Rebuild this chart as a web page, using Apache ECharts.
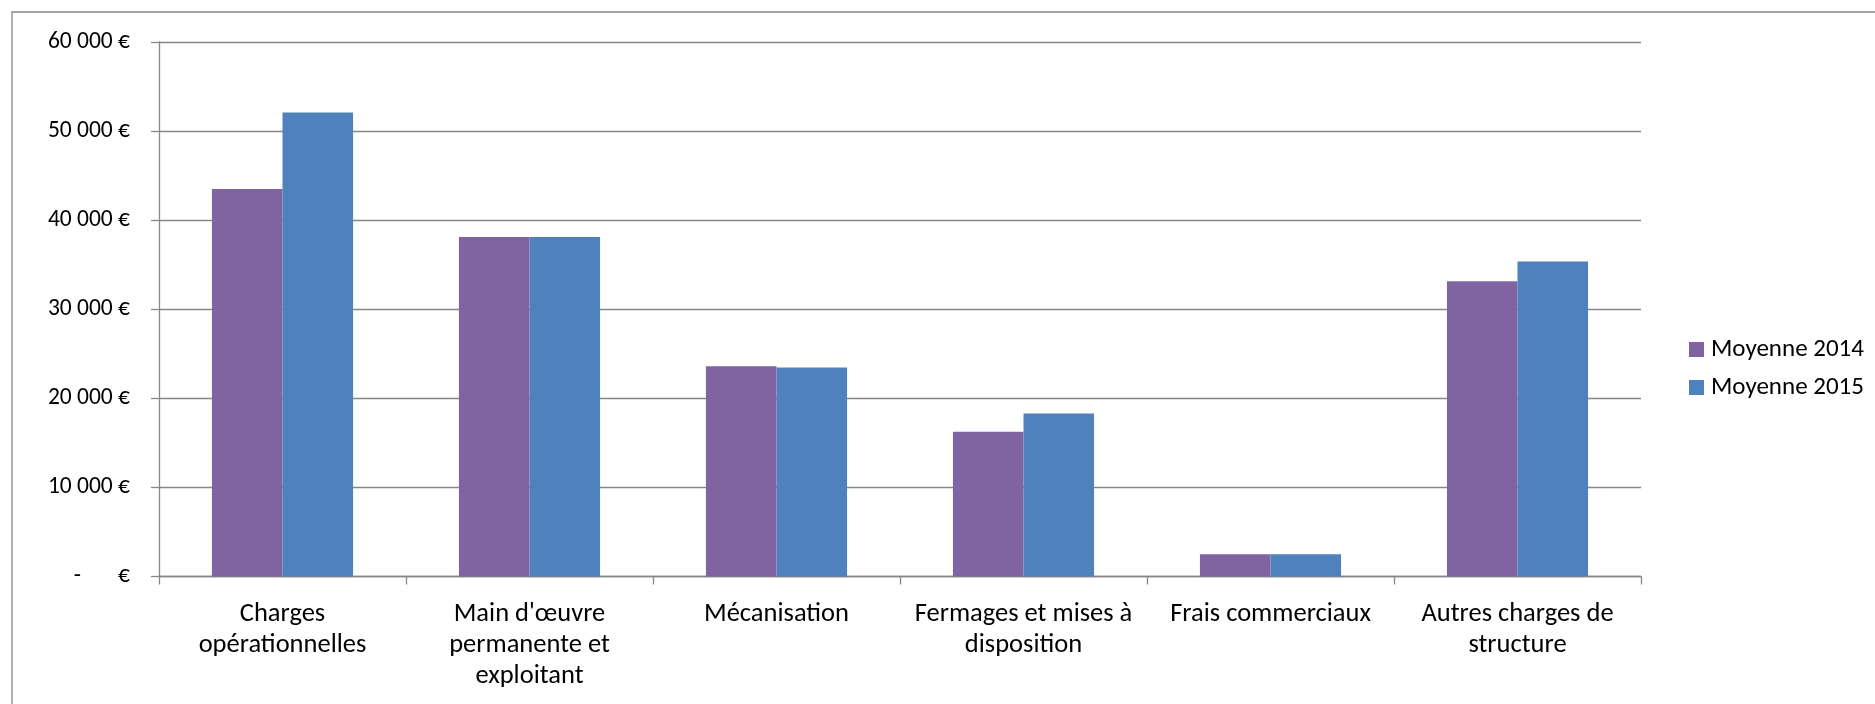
<!DOCTYPE html>
<html>
<head>
<meta charset="utf-8">
<script src="https://cdn.jsdelivr.net/npm/echarts@6/dist/echarts.min.js"></script>
<style>
html,body{margin:0;padding:0;background:#fff;}
#c{width:1875px;height:704px;}
</style>
</head>
<body>
<div id="c"></div>
<script>
var categories = [
  "Charges\nopérationnelles",
  "Main d'œuvre\npermanente et\nexploitant",
  "Mécanisation",
  "Fermages et mises à\ndisposition",
  "Frais commerciaux",
  "Autres charges de\nstructure"
];
var seriesNames = ["Moyenne 2014", "Moyenne 2015"];
var values2014 = [43500, 38100, 23600, 16250, 2500, 33150];
var values2015 = [52100, 38100, 23450, 18300, 2500, 35350];
var yTickLabels = ["-       €", "10 000 €", "20 000 €", "30 000 €", "40 000 €", "50 000 €", "60 000 €"];

var FONT = "Carlito, Lato, sans-serif";
var GRAY = "#878787";

var chart = echarts.init(document.getElementById('c'), null, {renderer: 'canvas'});
chart.setOption({
  backgroundColor: '#ffffff',
  animation: false,
  graphic: [{
    type: 'rect',
    shape: {x: 12, y: 12, width: 2000, height: 1000},
    style: {fill: 'none', stroke: GRAY, lineWidth: 1.3},
    silent: true,
    z: -1
  }],
  grid: {left: 159, right: 234, top: 42, bottom: 127.5, containLabel: false},
  legend: {
    orient: 'vertical',
    left: 1684,
    top: 330,
    itemWidth: 15,
    itemHeight: 15,
    itemGap: 9,
    icon: 'rect',
    textStyle: {fontFamily: FONT, fontSize: 25, color: '#000', lineHeight: 29, padding: [0, 0, 0, 2]},
    data: seriesNames
  },
  xAxis: {
    type: 'category',
    data: categories,
    axisLine: {lineStyle: {color: GRAY, width: 1.3}},
    axisTick: {show: true, length: 8, lineStyle: {color: GRAY, width: 1.3}},
    axisLabel: {
      interval: 0,
      margin: 22,
      fontFamily: FONT,
      fontSize: 26.5,
      lineHeight: 31,
      color: '#000',
      align: 'center'
    }
  },
  yAxis: {
    type: 'value',
    min: 0,
    max: 60000,
    interval: 10000,
    axisLine: {show: true, lineStyle: {color: GRAY, width: 1.3}},
    axisTick: {show: true, length: 8, lineStyle: {color: GRAY, width: 1.3}},
    splitLine: {show: true, lineStyle: {color: GRAY, width: 1.3}},
    axisLabel: {
      margin: 29,
      fontFamily: FONT,
      fontSize: 23.5,
      color: '#000',
      formatter: function (v) { return yTickLabels[Math.round(v / 10000)]; }
    }
  },
  series: [
    {
      name: seriesNames[0],
      type: 'bar',
      data: values2014,
      barGap: '0%',
      barCategoryGap: '42.86%',
      itemStyle: {color: '#8064A2'}
    },
    {
      name: seriesNames[1],
      type: 'bar',
      data: values2015,
      barGap: '0%',
      barCategoryGap: '42.86%',
      itemStyle: {color: '#4F81BD'}
    }
  ]
});
</script>
</body>
</html>
